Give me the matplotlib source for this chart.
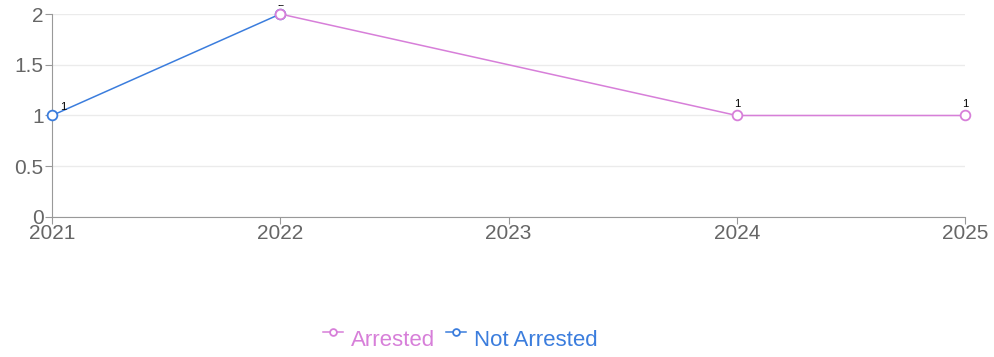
import numpy as np
import matplotlib.pyplot as plt
from matplotlib.legend_handler import HandlerLine2D
from matplotlib.transforms import Bbox, TransformedBbox

years = ["2021", "2022", "2023", "2024", "2025"]
arrested = [np.nan, 2, np.nan, 1, 1]
not_arrested = [1, 2, np.nan, np.nan, np.nan]

pink = "#d77fd9"
blue = "#3b7ddd"

plt.rcParams['font.family'] = ['Liberation Sans', 'DejaVu Sans']
fig = plt.figure(figsize=(9.95, 3.57), dpi=100)
ax = fig.add_axes([52 / 995, 1 - 217 / 357, (965 - 52) / 995, (217 - 14) / 357])

x = np.arange(len(years))

def plot_series(vals, color, label, z):
    vals = np.array(vals, dtype=float)
    m = ~np.isnan(vals)
    ax.plot(x[m], vals[m], color=color, lw=1.1, marker="o", ms=7,
            mfc="white", mec=color, mew=1.3, label=label, clip_on=False, zorder=z)

plot_series(arrested, pink, "Arrested", 4)
plot_series(not_arrested, blue, "Not Arrested", 3)

# the top label is cut by the frame in the original
clip = TransformedBbox(Bbox([[0, 0], [1, 1 - 5 / 357]]), fig.transFigure)

for xi, v in zip(x, arrested):
    if not np.isnan(v):
        t = ax.annotate(f"{int(v)}", (xi, v), xytext=(0, 4.5), textcoords="offset points",
                        ha="center", va="bottom", fontsize=8, annotation_clip=False)
        t.set_clip_box(clip)
        t.set_clip_on(True)
for xi, v in zip(x, not_arrested):
    if not np.isnan(v) and xi == 0:
        ax.annotate(f"{int(v)}", (xi, v), xytext=(6, 2.5), textcoords="offset points",
                    ha="left", va="bottom", fontsize=8, annotation_clip=False)

ax.set_xlim(0, len(years) - 1)
ax.set_ylim(0, 2)
ax.set_xticks(x)
ax.set_xticklabels(years)
ax.set_yticks([0, 0.5, 1, 1.5, 2])
ax.set_yticklabels(["0", "0.5", "1", "1.5", "2"])
ax.grid(axis="y", color="#ebebeb", lw=1)
ax.set_axisbelow(True)
for s in ["top", "right"]:
    ax.spines[s].set_visible(False)
for s in ["left", "bottom"]:
    ax.spines[s].set_color("#999999")
ax.tick_params(colors="#999999", labelcolor="#666666", labelsize=15, length=5, pad=1)
ax.tick_params(axis="x", pad=0)


class RaisedHandler(HandlerLine2D):
    # legend symbol sits a bit above the text middle
    def create_artists(self, legend, orig_handle, xdescent, ydescent, width, height,
                       fontsize, trans):
        arts = super().create_artists(legend, orig_handle, xdescent, ydescent, width,
                                      height, fontsize, trans)
        for a in arts:
            a.set_ydata(np.asarray(a.get_ydata()) + 0.28 * fontsize)
        return arts


handles, labels = ax.get_legend_handles_labels()
leg = fig.legend(handles, labels, loc="center", bbox_to_anchor=(460 / 995, 1 - 340 / 357),
                 ncol=2, frameon=False, fontsize=16, handlelength=0.9, handletextpad=0.35,
                 columnspacing=0.5, markerscale=0.7,
                 handler_map={h: RaisedHandler() for h in handles})
for t, c in zip(leg.get_texts(), [pink, blue]):
    t.set_color(c)

fig.savefig("out.png", dpi=100)
